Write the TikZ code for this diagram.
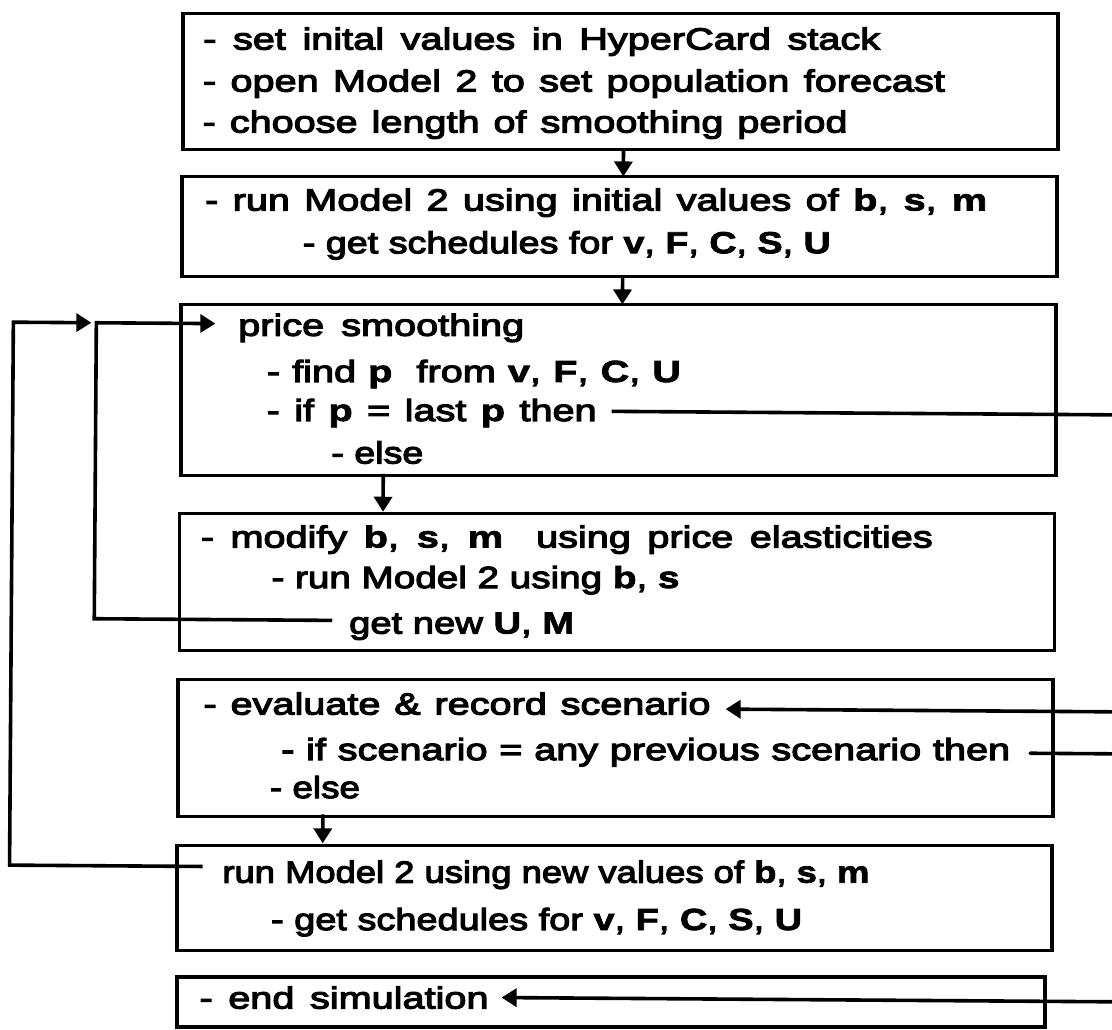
\documentclass[tikz,border=0pt]{standalone}
\usepackage{fontspec}
\usepackage{graphicx}
\setmainfont{Liberation Sans}[FakeStretch=1.3, UprightFeatures={FakeBold=4}, BoldFeatures={FakeBold=2.5}]
\usetikzlibrary{arrows.meta}
% bold variable names
\newcommand\vb[1]{{\bfseries #1}}
% a text line set to a given width: spaces stretched, or the line narrowed
\newcommand\spreadtxt[2]{\sbox0{#2}%
  \ifdim\wd0>#1\relax\resizebox{#1}{\ht0}{\usebox0}\else\makebox[#1][s]{#2}\fi}
\begin{document}
\begin{tikzpicture}[x=1pt,y=-1pt,
  box/.style={draw, line width=3.8pt, inner sep=0pt, outer sep=0pt},
  txt/.style={anchor=base west, inner sep=0pt, outer sep=0pt,
              font=\fontsize{30.5}{36}\selectfont},
  conn/.style={line width=3.6pt},
  arr/.style={conn, -{Triangle[length=15pt,width=18pt]}},
]
\useasboundingbox (0,0) rectangle (1112,1030);
\fill[white] (0,0) rectangle (1112,1030);

\begin{scope}[rotate around={-0.4:(556,515)}]
% ---- boxes
\node[box, minimum width=875pt, minimum height=136pt] (b1) at (617.5,81) {};
\node[box, minimum width=875pt, minimum height=100pt] (b2) at (617.5,226) {};
\node[box, minimum width=875pt, minimum height=171pt] (b3) at (617.5,389.5) {};
\node[box, minimum width=875pt, minimum height=137pt] (b4) at (617.5,581.5) {};
\node[box, minimum width=875pt, minimum height=137pt] (b5) at (617.5,747.5) {};
\node[box, minimum width=875pt, minimum height=105pt] (b6) at (617.5,897.5) {};
\node[box, minimum width=868pt, minimum height=50pt]  (b7) at (614,1002) {};

% ---- texts
\node[txt] (t11) at (200,52)  {\spreadtxt{677pt}{- set inital values in HyperCard stack}};
\node[txt] (t12) at (200,94)  {\spreadtxt{742pt}{- open Model 2 to set population forecast}};
\node[txt] (t13) at (200,135) {\spreadtxt{645pt}{- choose length of smoothing period}};

\node[txt] (t21) at (203,213) {\spreadtxt{782pt}{- run Model 2 using initial values of \vb{b}, \vb{s}, \vb{m}}};
\node[txt] (t22) at (301,255) {\spreadtxt{528pt}{- get schedules for \vb{v}, \vb{F}, \vb{C}, \vb{S}, \vb{U}}};

\node[txt] (t31) at (237,338) {\spreadtxt{286pt}{price smoothing}};
\node[txt] (t32) at (266,384) {\spreadtxt{414pt}{- find \vb{p}\ \ from \vb{v}, \vb{F}, \vb{C}, \vb{U}}};
\node[txt] (t33) at (266,423) {\spreadtxt{330pt}{- if \vb{p} = last \vb{p} then}};
\node[txt] (t34) at (331,465) {\spreadtxt{92pt}{- else}};

\node[txt] (t41) at (201,550) {\spreadtxt{732pt}{- modify \vb{b}, \vb{s}, \vb{m}\ \ using price elasticities}};
\node[txt] (t42) at (272,590) {\spreadtxt{408pt}{- run Model 2 using \vb{b}, \vb{s}}};
\node[txt] (t43) at (350,635) {\spreadtxt{225pt}{get new \vb{U}, \vb{M}}};

\node[txt] (t51) at (205,717) {\spreadtxt{507pt}{- evaluate \& record scenario}};
\node[txt] (t52) at (283,762) {\spreadtxt{729pt}{- if scenario = any previous scenario then}};
\node[txt] (t53) at (272,800) {\spreadtxt{90pt}{- else}};

\node[txt] (t61) at (225,885) {\spreadtxt{647pt}{run Model 2 using new values of \vb{b}, \vb{s}, \vb{m}}};
\node[txt] (t62) at (274,932) {\spreadtxt{531pt}{- get schedules for \vb{v}, \vb{F}, \vb{C}, \vb{S}, \vb{U}}};

\node[txt] (t71) at (203,1011) {\spreadtxt{289pt}{- end simulation}};

% ---- downward flow
\coordinate (xa) at (621,0);
\coordinate (xb) at (383,0);
\coordinate (xc) at (325,0);
\draw[arr] (b1.south -| xa) -- (b2.north -| xa);
\draw[arr] (b2.south -| xa) -- (b3.north -| xa);
\draw[arr] (b3.south -| xb) -- (b4.north -| xb);
\draw[arr] (b5.south -| xc) -- (b6.north -| xc);

% ---- loops back to price smoothing
\coordinate (getnew)  at (333,622);
\coordinate (loopin)  at (95,326);
\coordinate (pricein) at (214,326);
\draw[arr] (getnew) -| (loopin) -- (pricein);

\coordinate (runnew)  at (205,869);
\coordinate (loopout) at (12,326);
\coordinate (outtip)  at (90,326);
\draw[arr] (runnew) -| (loopout) -- (outtip);

% ---- branches leaving / entering on the right
\coordinate (thenA) at (611,411);
\coordinate (edgeA) at (1125,411);
\draw[conn] (thenA) -- (edgeA);

\coordinate (edgeB) at (1125,708);
\coordinate (scenin) at (727,708);
\draw[arr] (edgeB) -- (scenin);

\coordinate (thenB) at (1032,750);
\coordinate (edgeC) at (1125,750);
\draw[conn, line cap=round] (thenB) -- (edgeC);

\coordinate (edgeD) at (1125,998);
\coordinate (endin) at (505,998);
\draw[arr] (edgeD) -- (endin);
\end{scope}
\end{tikzpicture}
\end{document}
